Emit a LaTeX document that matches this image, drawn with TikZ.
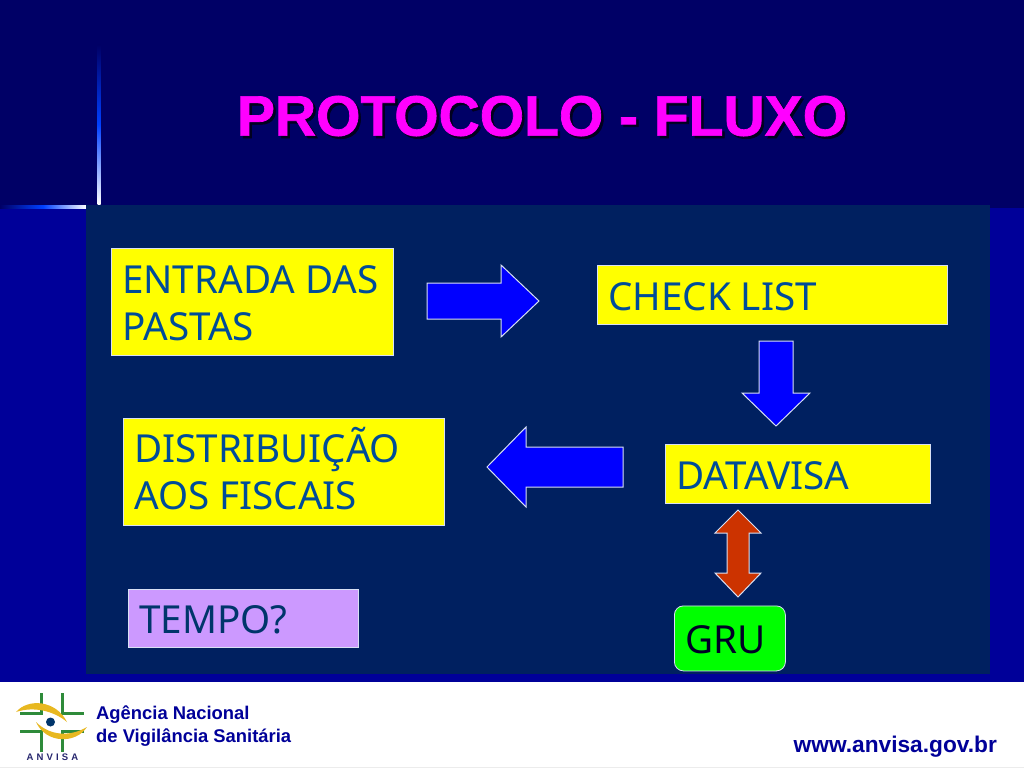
\documentclass[tikz,border=0pt]{standalone}
\usepackage{fontspec}
\setmainfont{Noto Sans}
\newfontfamily\arialf{Liberation Sans}
\newfontfamily\titlef[FakeBold=1.2]{Liberation Sans Bold}
\definecolor{navy}{HTML}{000066}
\definecolor{sidebl}{HTML}{000099}
\definecolor{panel}{HTML}{002060}
\definecolor{ylw}{HTML}{FFFF00}
\definecolor{lilac}{HTML}{CC99FF}
\definecolor{txtblue}{HTML}{004C99}
\definecolor{brt}{HTML}{0000FF}
\definecolor{redar}{HTML}{CC3300}
\definecolor{grn}{HTML}{00FF00}
\definecolor{ttl}{HTML}{FF00FF}
\definecolor{logog}{HTML}{2E8B3A}
\definecolor{logoy}{HTML}{E8B820}
\definecolor{edgeb}{HTML}{D8E0F4}
\tikzset{
 textbox/.style={draw=edgeb,line width=.8pt,fill=ylw,anchor=north west,inner sep=0pt},
 boxtext/.style={text=txtblue,font=\fontsize{38.6}{47}\selectfont,align=left,inner sep=0pt},
 blockarrow/.style={draw=edgeb,line width=1pt,fill=brt,line join=miter},
 crossline/.style={draw=logog,line width=3pt},
}
\begin{document}
\begin{tikzpicture}[x=1pt,y=-1pt]
\useasboundingbox (0,0) rectangle (1024,768);
\fill[navy] (0,0) rectangle (1024,208);
\fill[sidebl] (0,208) rectangle (1024,682);
\fill[white] (0,683) rectangle (1024,768);
\draw[line width=.6pt,draw=gray!15] (0,767.5) -- (1024,767.5);
\fill[left color=navy,right color=white,middle color=blue!75!cyan] (0,205) rectangle (86,208);
\fill[top color=navy,bottom color=white,middle color=blue!75!cyan] (97.7,45) rectangle (100.5,204);
\fill[panel] (86,205) rectangle (990,674);
% boxes
\node[textbox,minimum width=282pt,minimum height=107pt] (entrada) at (110.5,247.5) {};
\node[boxtext,anchor=north west] (entradat) at (122,265) {ENTRADA DAS\\PASTAS};
\node[textbox,minimum width=350pt,minimum height=59pt] (check) at (597,264.5) {};
\node[boxtext,anchor=west] (checkt) at (608,296.5) {CHECK LIST};
\node[textbox,minimum width=321pt,minimum height=107pt] (distrib) at (122.5,417.5) {};
\node[boxtext,anchor=north west] (distribt) at (134,427) {DISTRIBUIÇÃO\\AOS FISCAIS};
\node[textbox,minimum width=265pt,minimum height=59pt] (datavisa) at (665,443.5) {};
\node[boxtext,anchor=west] (datavisat) at (676,475.5) {DATAVISA};
\node[draw=edgeb,line width=.8pt,fill=lilac,anchor=north west,minimum width=230pt,minimum height=58pt,inner sep=0pt] (tempo) at (128,588.5) {};
\node[boxtext,anchor=west,text=txtblue!70!black] (tempot) at (139,620) {TEMPO?};
\node[draw=edgeb,line width=.8pt,fill=grn,rounded corners=9pt,anchor=north west,minimum width=111pt,minimum height=65pt,inner sep=0pt] (gru) at (674,605.5) {};
\node[boxtext,anchor=center,text=black!85!blue] (grut) at (726,640) {GRU};
% arrows
\draw[blockarrow] (427,283) -- (501,283) -- (501,265) -- (539,301) -- (501,337) -- (501,319) -- (427,319) -- cycle;
\draw[blockarrow] (759,341) -- (793,341) -- (793,393) -- (810,393) -- (776,426) -- (742,393) -- (759,393) -- cycle;
\draw[blockarrow] (623,447) -- (526,447) -- (526,427) -- (487,467) -- (526,507) -- (526,487) -- (623,487) -- cycle;
\draw[blockarrow,fill=redar] (738,510) -- (761,533) -- (749,533) -- (749,573) -- (761,573) -- (738,597) -- (715,573) -- (727,573) -- (727,533) -- (715,533) -- cycle;
% title
\node[font=\titlef\fontsize{57}{64}\selectfont,text=black!70!navy] (titleshadow) at (544.5,118.5) {PROTOCOLO - FLUXO};
\node[font=\titlef\fontsize{57}{64}\selectfont,text=ttl] (title) at (542,116) {PROTOCOLO - FLUXO};
% logo
\draw[crossline] (41,693) -- (41,713) -- (20,713);
\draw[crossline] (62,693) -- (62,713) -- (84,713);
\draw[crossline] (20,731) -- (41,731) -- (41,752);
\draw[crossline] (84,731) -- (62,731) -- (62,752);
\fill[logoy] (16,712) .. controls (28,698) and (56,700) .. (67,722) .. controls (54,711) and (34,706) .. (16,712) -- cycle;
\fill[logoy] (87,727) .. controls (76,744) and (46,744) .. (36,722) .. controls (50,736) and (70,737) .. (87,727) -- cycle;
\fill[txtblue!70!black] (50.5,722) circle (4.5pt);
\node[font=\arialf\bfseries\fontsize{9.5}{10}\selectfont,text=navy!70!gray,inner sep=0pt] (anvisa) at (52.5,757.5) {A\,\,N\,\,V\,\,I\,\,S\,\,A};
\node[anchor=west,font=\arialf\bfseries\fontsize{18.4}{23}\selectfont,text=sidebl,align=left,inner sep=0pt] (agencia) at (96,726.5) {Agência Nacional\\de Vigilância Sanitária};
\node[anchor=east,font=\arialf\bfseries\fontsize{22.7}{26}\selectfont,text=sidebl,inner sep=0pt] (www) at (997,747) {www.anvisa.gov.br};
\end{tikzpicture}
\end{document}
